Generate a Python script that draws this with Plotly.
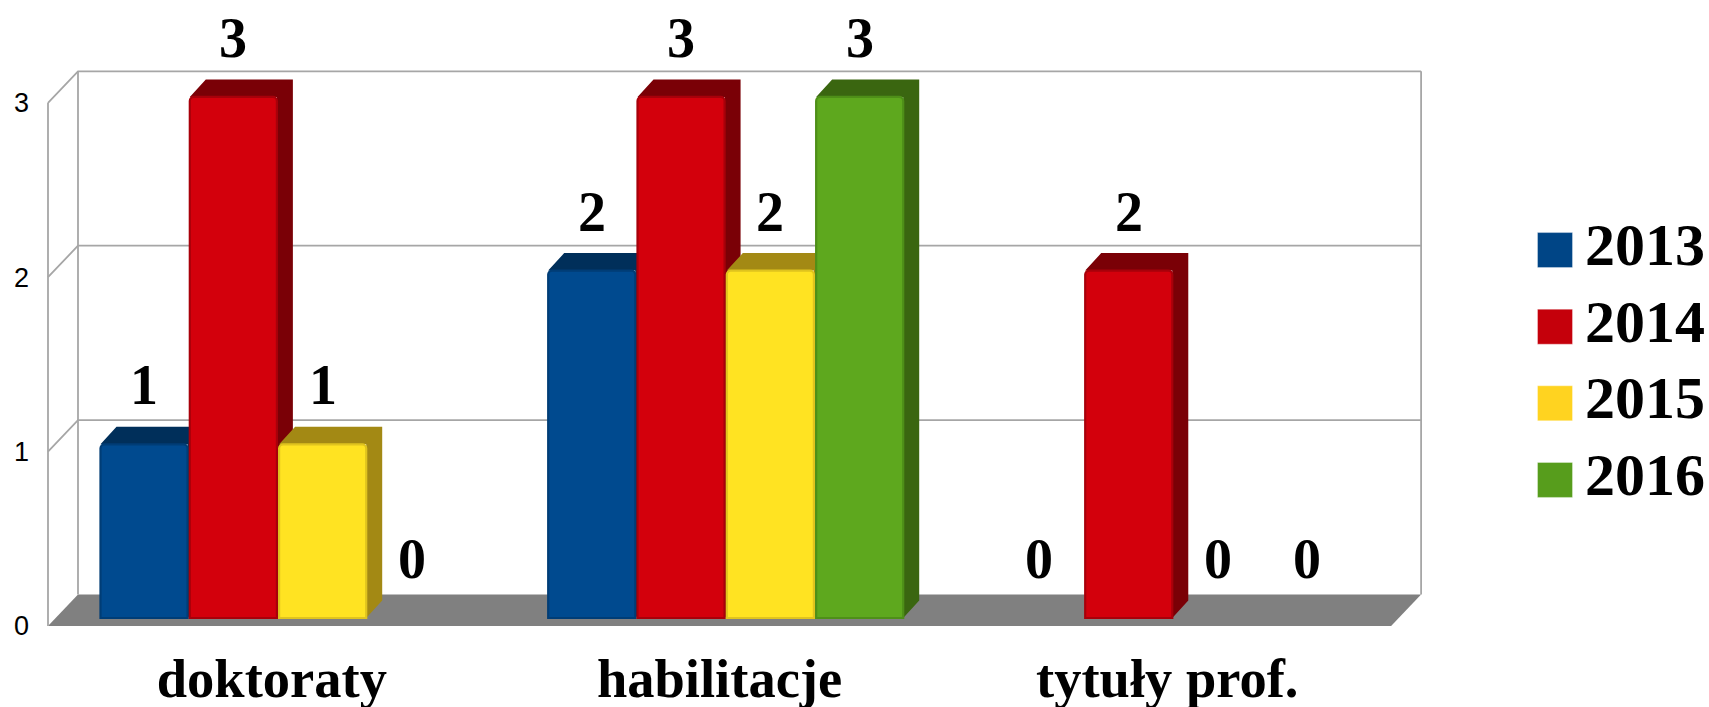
import plotly.graph_objects as go

# ---- data ----
categories = ["doktoraty", "habilitacje", "tytuły prof."]
years = ["2013", "2014", "2015", "2016"]
v2013 = [1, 2, 0]
v2014 = [3, 3, 2]
v2015 = [1, 2, 0]
v2016 = [0, 3, 0]
y_ticks = [0, 1, 2, 3]

series = [v2013, v2014, v2015, v2016]
front = ["#004a8f", "#d3000c", "#ffe322", "#5ea81e"]
edge = ["#003d76", "#a8000a", "#e0c41e", "#4e8f18"]
dark = ["#002f5a", "#7a0006", "#a38914", "#3a6610"]
legend_col = ["#004586", "#c5000b", "#ffd320", "#579d1c"]

W, H = 1709, 707
SERIF = "Liberation Serif"
GRID = "#a6a6a6"


def ranges(px_left, px_per_x, py_zero, py_per_v):
    """Axis ranges over the whole page for a plane whose x=-0.5 sits at px_left
    and whose value 0 sits at py_zero."""
    rx = [-0.5 - px_left / px_per_x, -0.5 + (W - px_left) / px_per_x]
    ry = [(py_zero - H) / py_per_v, py_zero / py_per_v]
    return rx, ry


fig = go.Figure()
wall_rx, wall_ry = ranges(48, 447.7, 626, 174.4)
bar_rx, bar_ry = ranges(54.15, 447.7, 618, 173.7)
wall_dx, wall_dv = 30 / 447.7, 31.5 / 174.4
bar_pitch = 0.1995
bar_w = 0.1945
inset = (bar_pitch - bar_w) / 2
bar_dx, bar_dv = 16 / 447.7, 17.5 / 173.7

# walls and floor, in the front-plane axes
x_l, x_r = -0.5, 2.5
fig.add_trace(go.Scatter(
    x=[x_l, x_l + wall_dx, x_r + wall_dx, x_r, x_l],
    y=[0, wall_dv, wall_dv, 0, 0],
    mode="lines", fill="toself", fillcolor="#808080",
    line=dict(color="#808080", width=0), xaxis="x", yaxis="y",
    hoverinfo="skip", showlegend=False))
for t in y_ticks[1:]:
    fig.add_trace(go.Scatter(
        x=[x_l, x_l + wall_dx, x_r + wall_dx],
        y=[t, t + wall_dv, t + wall_dv],
        mode="lines", line=dict(color=GRID, width=1.8), xaxis="x", yaxis="y",
        hoverinfo="skip", showlegend=False))
for xx, v0 in [(x_l, 0), (x_l + wall_dx, wall_dv), (x_r + wall_dx, wall_dv)]:
    fig.add_trace(go.Scatter(
        x=[xx, xx], y=[v0, v0 + 3],
        mode="lines", line=dict(color=GRID, width=1.8), xaxis="x", yaxis="y",
        hoverinfo="skip", showlegend=False))

# side and top faces
for j, vals in enumerate(series):
    for i, v in enumerate(vals):
        if v <= 0:
            continue
        left = i + (j - 2) * bar_pitch + inset
        right = left + bar_w
        fig.add_trace(go.Scatter(
            x=[left, left + bar_dx, right + bar_dx, right + bar_dx, right, right, left],
            y=[v, v + bar_dv, v + bar_dv, bar_dv, 0, v, v],
            mode="lines", fill="toself", fillcolor=dark[j],
            line=dict(color=dark[j], width=0), xaxis="x2", yaxis="y2",
            hoverinfo="skip", showlegend=False))

# front faces
for j, vals in enumerate(series):
    fig.add_trace(go.Bar(
        x=[0, 1, 2], y=vals, name=years[j], width=bar_w,
        offset=(j - 2) * bar_pitch + inset,
        marker=dict(color=front[j],
                    line=dict(color=edge[j], width=[2.2 if v > 0 else 0 for v in vals])),
        xaxis="x3", yaxis="y3", showlegend=False))

# value labels
for j, vals in enumerate(series):
    for i, v in enumerate(vals):
        fig.add_annotation(
            x=i + (j - 1.5) * bar_pitch, y=v, xref="x3", yref="y3", yshift=59,
            text=str(v), showarrow=False, yanchor="middle",
            font=dict(family=SERIF, size=56, color="black", weight=700))

# key
fig.add_trace(go.Scatter(
    x=[0] * 4, y=years, mode="markers",
    marker=dict(symbol="square", size=35, color=legend_col,
                line=dict(color="rgba(255,255,255,0.35)", width=1)),
    xaxis="x4", yaxis="y4", hoverinfo="skip", showlegend=False, cliponaxis=False))
fig.add_trace(go.Scatter(
    x=[1] * 4, y=years, mode="text", text=years, textposition="middle right",
    textfont=dict(family=SERIF, size=60, color="black", weight=700),
    xaxis="x4", yaxis="y4", hoverinfo="skip", showlegend=False, cliponaxis=False))

hidden = dict(visible=False, showgrid=False, zeroline=False, automargin=False)
fig.update_layout(
    template="none",
    width=W, height=H, margin=dict(l=0, r=0, t=0, b=0),
    paper_bgcolor="white", plot_bgcolor="rgba(0,0,0,0)",
    barmode="overlay", barcornerradius=4, showlegend=False,
    xaxis=dict(domain=[0, 1], range=wall_rx, anchor="free", position=(H - 626) / H,
               showgrid=False, automargin=False,
               zeroline=False, showline=False, tickmode="array",
               tickvals=[0, 1, 2], ticktext=categories, ticks="",
               ticklabelstandoff=15,
               tickfont=dict(family=SERIF, size=54.5, color="black", weight=700)),
    yaxis=dict(domain=[0, 1], range=wall_ry, anchor="free", position=48 / W,
               showgrid=False, automargin=False,
               zeroline=False, showline=False, tickmode="array",
               tickvals=y_ticks, ticktext=[str(t) for t in y_ticks], ticks="",
               ticklabelstandoff=19,
               tickfont=dict(family="Liberation Sans", size=27, color="black")),
    xaxis2=dict(domain=[0, 1], range=bar_rx, anchor="y2", **hidden),
    yaxis2=dict(domain=[0, 1], range=bar_ry, anchor="x2", **hidden),
    xaxis3=dict(domain=[0, 1], range=bar_rx, anchor="y3", **hidden),
    yaxis3=dict(domain=[0, 1], range=bar_ry, anchor="x3", **hidden),
    xaxis4=dict(domain=[1555 / W, 1585 / W], range=[0, 1], anchor="y4", **hidden),
    yaxis4=dict(domain=[(H - 517) / H, (H - 213) / H], type="category",
                categoryorder="array", categoryarray=years[::-1], anchor="x4", **hidden),
)

fig.write_html("out.html", config={"displayModeBar": False},
               post_script="document.body.style.margin='0';document.body.style.overflow='hidden';")
